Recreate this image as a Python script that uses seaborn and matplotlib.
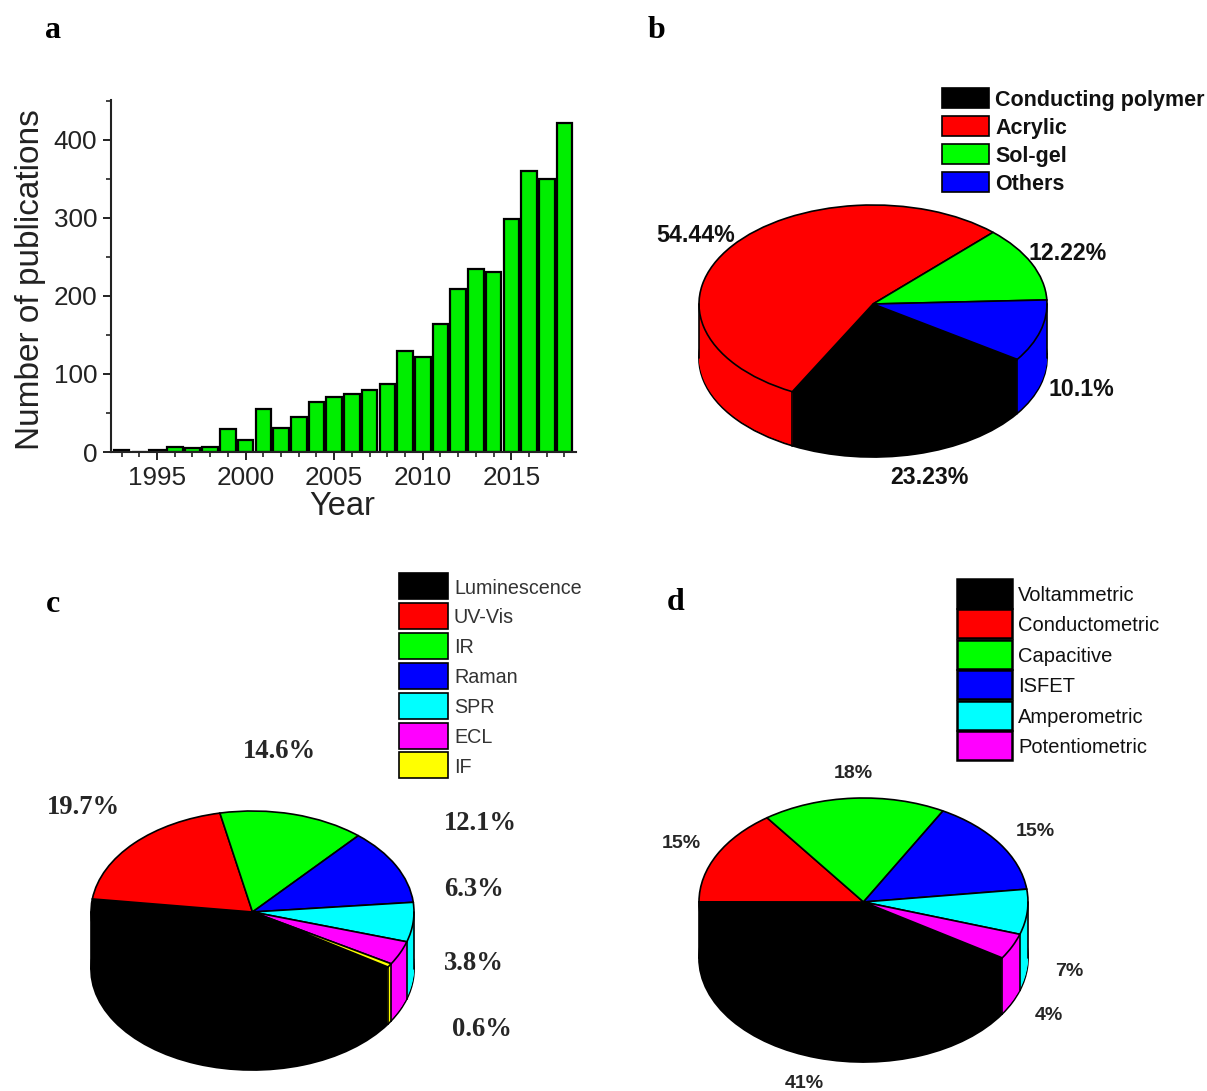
import numpy as np
import pandas as pd
import seaborn as sns
import matplotlib.pyplot as plt
from matplotlib.patches import Rectangle

W, H = 1207, 1091

# panel a
years = list(range(1993, 2019))
pubs = [3, 0, 2, 6, 5, 7, 29, 15, 55, 31, 45, 64, 70, 74, 80, 87, 129, 122, 164, 209, 235, 231, 298, 360, 350, 421]

# panel b
matrix_names = ['Conducting polymer', 'Acrylic', 'Sol-gel', 'Others']
matrix_share = [23.23, 54.44, 12.22, 10.1]
matrix_labels = ['23.23%', '54.44%', '12.22%', '10.1%']

# panel c
optical_names = ['Luminescence', 'UV-Vis', 'IR', 'Raman', 'SPR', 'ECL', 'IF']
optical_share = [42.9, 19.7, 14.6, 12.1, 6.3, 3.8, 0.6]
optical_labels = ['19.7%', '14.6%', '12.1%', '6.3%', '3.8%', '0.6%']

# panel d
electro_names = ['Voltammetric', 'Conductometric', 'Capacitive', 'ISFET', 'Amperometric', 'Potentiometric']
electro_share = [41, 15, 18, 15, 7, 4]
electro_labels = ['41%', '15%', '18%', '15%', '7%', '4%']

pie_colors = ['#000000', '#ff0000', '#00ff00', '#0000ff', '#00ffff', '#ff00ff', '#ffff00']

sns.set_style('ticks')
plt.rcParams['font.family'] = ['Liberation Sans', 'DejaVu Sans']
fig = plt.figure(figsize=(W / 100, H / 100), dpi=100, facecolor='white')


def px_axes(left, top, right, bottom):
    return fig.add_axes([left / W, 1 - bottom / H, (right - left) / W, (bottom - top) / H])


def put(x, y, s, va='center', **kw):
    fig.text(x / W, 1 - y / H, s, va=va, **kw)


def pie3d(values, start, cx, cy, rx, ry, depth):
    # top face plus a stack of copies shifted down, which makes the side wall
    m = 0.02
    d = depth / ry
    ax = px_axes(cx - rx * (1 + m), cy - ry * (1 + m), cx + rx * (1 + m), cy + ry * (1 + m) + depth)
    colors = pie_colors[:len(values)]
    ax.pie(values, colors=colors, startangle=start, counterclock=False, center=(0, -d),
           wedgeprops={'edgecolor': 'black', 'linewidth': 1.3})
    for k in np.linspace(d, 0, int(depth) + 1)[1:-1]:
        ax.pie(values, colors=colors, startangle=start, counterclock=False, center=(0, -k),
               wedgeprops={'edgecolor': 'none', 'linewidth': 0})
    ax.pie(values, colors=colors, startangle=start, counterclock=False,
           wedgeprops={'edgecolor': 'black', 'linewidth': 1.2})
    # wall edges where the slices meet on the front
    angles = np.radians(start - np.cumsum(values) / np.sum(values) * 360)
    for a in angles:
        if np.sin(a) < 0:
            ax.plot([np.cos(a)] * 2, [np.sin(a), np.sin(a) - d], color='black', lw=1.2, zorder=5)
    for side in (-1, 1):
        ax.plot([side, side], [0, -d], color='black', lw=1.2, zorder=5)
    ax.set_aspect('auto')
    ax.set_xlim(-1 - m, 1 + m)
    ax.set_ylim(-1 - d - m, 1 + m)
    ax.patch.set_visible(False)
    return ax


def pie_legend(names, x, y, sw_w, sw_h, pitch, text_x, edge_lw, **text_kw):
    for i, name in enumerate(names):
        top = y + i * pitch
        fig.add_artist(Rectangle((x / W, 1 - (top + sw_h) / H), sw_w / W, sw_h / H, transform=fig.transFigure,
                                 facecolor=pie_colors[i], edgecolor='black', linewidth=edge_lw))
        put(text_x, top + sw_h / 2, name, va='center_baseline', ha='left', **text_kw)


# a: bars
df = pd.DataFrame({'year': years, 'count': pubs})
ax = px_axes(111, 100, 576, 452)
sns.barplot(data=df, x='year', y='count', native_scale=True, color='#00ee00', saturation=1,
            edgecolor='black', linewidth=1.6, width=0.88, ax=ax)
ax.set_xlim(1992.4, 2018.65)
ax.set_ylim(0, 451)
ax.set_xticks(range(1995, 2016, 5))
ax.set_xticks(range(1993, 2019), minor=True)
ax.set_yticks([0, 100, 200, 300, 400])
ax.set_yticks([50, 150, 250, 350, 450], minor=True)
ax.tick_params(axis='both', which='major', length=6, width=1.4, labelsize=18.8, colors='#222222', pad=4)
ax.tick_params(axis='both', which='minor', length=3.5, width=1.2, color='#222222')
ax.set_xlabel('')
ax.set_ylabel('')
ax.patch.set_visible(False)
for s in ['top', 'right']:
    ax.spines[s].set_visible(False)
for s in ['left', 'bottom']:
    ax.spines[s].set_linewidth(1.5)
    ax.spines[s].set_color('#222222')
fig.text(31 / W, 1 - 280 / H, 'Number of publications', rotation=90, ha='center', va='center',
         fontsize=24, color='#222222')
put(342, 506, 'Year', ha='center', fontsize=23.5, color='#222222')

# b
pie3d(matrix_share, -34, 873, 304, 174, 99, 54)
pie_legend(matrix_names, 942, 88, 47, 20, 28, 995, 1.2, fontsize=15.5, fontweight='bold', color='#111111')
for s, x, y in zip(matrix_labels, [890, 656, 1029, 1049], [478, 235, 253, 389]):
    put(x, y, s, ha='left', fontsize=16.7, fontweight='bold', color='#111111')

# c
pie3d(optical_share, -33, 252.5, 912, 161.5, 101, 57)
pie_legend(optical_names, 399, 573, 49, 26, 29.9, 454, 1.2, fontsize=14.2, color='#333333')
for s, x, y in zip(optical_labels, [47, 243, 444, 444, 444, 452], [807, 752, 823, 889, 964, 1029]):
    put(x, y, s, ha='left', fontsize=19.2, fontweight='bold', family='Liberation Serif')

# d
pie3d(electro_share, -32.5, 863.5, 902, 164.5, 104, 56)
pie_legend(electro_names, 957, 579, 55, 29, 30.4, 1018, 1.8, fontsize=14.5, color='#111111')
for s, x, y in zip(electro_labels, [785, 662, 834, 1016, 1055, 1035], [1083, 844, 774, 832, 972, 1016]):
    put(x, y, s, ha='left', fontsize=14, fontweight='bold')

# panel letters
for s, x, y in zip(['a', 'b', 'c', 'd'], [45, 648, 46, 667], [30, 30, 604, 602]):
    put(x, y, s, ha='left', fontsize=23, fontweight='bold', family='Liberation Serif', color='black')

fig.savefig('out.png', dpi=100)
